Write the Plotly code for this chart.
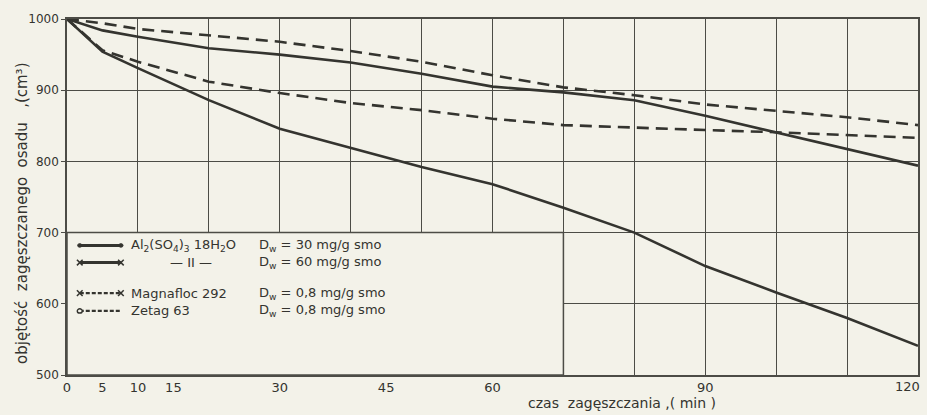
import plotly.graph_objects as go

# time of thickening (min)
t = [0, 5, 10, 20, 30, 40, 50, 60, 70, 80, 90, 100, 110, 120]
# sludge volume (cm3)
al30 = [1000, 984, 975, 959, 950, 939, 923, 905, 897, 886, 864, 841, 817, 794]
al60 = [1000, 954, 931, 886, 846, 819, 792, 768, 735, 700, 653, 616, 580, 541]
magnafloc = [1000, 994, 986, 977, 968, 955, 940, 921, 904, 893, 880, 871, 862, 851]
zetag = [1000, 956, 940, 912, 896, 882, 872, 860, 851, 847, 844, 841, 837, 833]

x_ticks = [0, 5, 10, 15, 30, 45, 60, 90, 120]
y_ticks = [500, 600, 700, 800, 900, 1000]

BG = "#f3f2e9"
INK = "#34342f"
GRID = "#4c4c46"
FONT = "DejaVu Sans"

fig = go.Figure()
series = [
    ("Al2(SO4)3 30", al30, "solid"),
    ("Al2(SO4)3 60", al60, "solid"),
    ("Magnafloc 292", magnafloc, "12px,7px"),
    ("Zetag 63", zetag, "12px,7px"),
]
for name, vals, dash in series:
    fig.add_trace(go.Scatter(x=t, y=vals, mode="lines", name=name,
                             line=dict(color=INK, width=2.6, dash=dash),
                             showlegend=False))

# legend box (covers the grid)
shapes = [dict(type="rect", xref="x", yref="y", x0=0, x1=70, y0=500, y1=700,
               fillcolor=BG, line=dict(color=GRID, width=1.5), layer="between")]

# legend samples
rows_y = [682, 658, 615, 590]
lx0, lx1 = 1.8, 7.6
styles = ["solid", "solid", "dash", "dash"]
for ry, st in zip(rows_y, styles):
    shapes.append(dict(type="line", xref="x", yref="y", x0=lx0, x1=lx1, y0=ry, y1=ry,
                       line=dict(color=INK, width=3 if st == "solid" else 2.4,
                                 dash="solid" if st == "solid" else "4px,2px"),
                       layer="above"))
# end marks
for ry in rows_y[:1]:
    for xx in (lx0, lx1):
        shapes.append(dict(type="circle", xref="x", yref="y", x0=xx - 0.3, x1=xx + 0.3,
                           y0=ry - 2.5, y1=ry + 2.5, fillcolor=INK, line=dict(color=INK, width=1)))
for ry in [rows_y[1], rows_y[2]]:
    for xx in (lx0, lx1):
        shapes.append(dict(type="line", xref="x", yref="y", x0=xx - 0.4, x1=xx + 0.4,
                           y0=ry - 4, y1=ry + 4, line=dict(color=INK, width=1.5)))
        shapes.append(dict(type="line", xref="x", yref="y", x0=xx - 0.4, x1=xx + 0.4,
                           y0=ry + 4, y1=ry - 4, line=dict(color=INK, width=1.5)))
shapes.append(dict(type="circle", xref="x", yref="y", x0=lx0 - 0.35, x1=lx0 + 0.35,
                   y0=rows_y[3] - 3, y1=rows_y[3] + 3, fillcolor=BG, line=dict(color=INK, width=1.4)))

annotations = []
left_texts = ["Al<sub>2</sub>(SO<sub>4</sub>)<sub>3</sub> 18H<sub>2</sub>O", None,
              "Magnafloc 292", "Zetag 63"]
right_texts = ["D<sub>w</sub> = 30 mg/g smo", "D<sub>w</sub> = 60 mg/g smo",
               "D<sub>w</sub> = 0,8 mg/g smo", "D<sub>w</sub> = 0,8 mg/g smo"]
LEG = dict(family=FONT, size=13, color=INK)
for ry, lt, rt in zip(rows_y, left_texts, right_texts):
    if lt is not None:
        annotations.append(dict(x=8.8, y=ry, xref="x", yref="y", text=lt, showarrow=False,
                                xanchor="left", yanchor="middle", font=LEG))
    annotations.append(dict(x=26.8, y=ry, xref="x", yref="y", text=rt, showarrow=False,
                            xanchor="left", yanchor="middle", font=LEG))
annotations.append(dict(x=17.5, y=rows_y[1], xref="x", yref="y", text="— II —", showarrow=False,
                        xanchor="center", yanchor="middle", font=LEG))

# last x tick label, kept inside the window
annotations.append(dict(x=120, y=0, xref="x", yref="paper", text="120", showarrow=False,
                        xanchor="right", yanchor="top", xshift=4, yshift=-2,
                        font=dict(family=FONT, size=13, color=INK)))

# axis titles
annotations.append(dict(x=-0.053, y=0.455, xref="paper", yref="paper",
                        text="objętość  zagęszczanego  osadu   ,(cm³)", textangle=-90,
                        showarrow=False, xanchor="center", yanchor="middle",
                        font=dict(family=FONT, size=15, color=INK)))
annotations.append(dict(x=0.652, y=-0.079, xref="paper", yref="paper",
                        text="czas  zagęszczania ,( min )", showarrow=False,
                        xanchor="center", yanchor="middle",
                        font=dict(family=FONT, size=14, color=INK)))

fig.update_layout(
    width=927, height=415,
    margin=dict(l=67, r=7, t=19, b=40),
    paper_bgcolor=BG, plot_bgcolor=BG,
    shapes=shapes, annotations=annotations,
    font=dict(family=FONT, size=12, color=INK),
    xaxis=dict(range=[0, 120], tickmode="array", tickvals=x_ticks,
               ticktext=[str(v) if v != 120 else "" for v in x_ticks],
               showgrid=False, zeroline=False,
               showline=True, mirror=True, linecolor=GRID, linewidth=1.6,
               ticks="", tickfont=dict(family=FONT, size=13, color=INK),
               minor=dict(tickmode="linear", tick0=0, dtick=10, showgrid=True,
                          gridcolor=GRID, gridwidth=1.4, ticks="")),
    yaxis=dict(range=[500, 1000], tickmode="array", tickvals=y_ticks,
               showgrid=True, gridcolor=GRID, gridwidth=1.4, zeroline=False,
               showline=True, mirror=True, linecolor=GRID, linewidth=1.6,
               ticks="outside", ticklen=4, tickcolor=GRID,
               tickfont=dict(family=FONT, size=12, color=INK)),
)

fig.write_html("out.html", config={"displayModeBar": False},
               post_script="document.body.style.margin='0px';")
